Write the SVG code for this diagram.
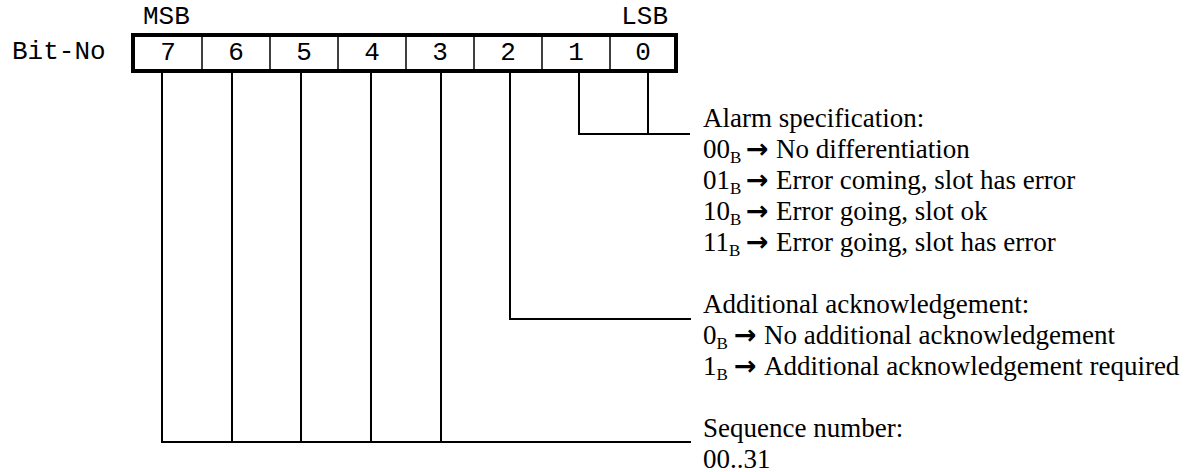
<svg xmlns="http://www.w3.org/2000/svg" width="1185" height="472" viewBox="0 0 1185 472">
<style>
.mono{font-family:"Liberation Mono","Courier New",monospace;font-size:26px;fill:#000}
.ser{font-family:"Liberation Serif","Times New Roman",serif;font-size:27px;fill:#000}
.sub{font-size:17px}
.arr{font-family:"DejaVu Sans",sans-serif;font-size:27px;font-weight:bold}
.ln{stroke:#000;stroke-width:2;fill:none}
.div{stroke:#000;stroke-width:1.5}
</style>
<rect width="1185" height="472" fill="#fff"/>
<g id="register">
<text class="mono" x="12" y="59">Bit-No</text>
<text class="mono" x="143" y="24">MSB</text>
<text class="mono" x="668" y="24" text-anchor="end">LSB</text>
<rect x="133" y="35" width="543" height="36" fill="none" stroke="#000" stroke-width="4"/>
<line class="div" x1="202" y1="35" x2="202" y2="71"/>
<line class="div" x1="270" y1="35" x2="270" y2="71"/>
<line class="div" x1="338" y1="35" x2="338" y2="71"/>
<line class="div" x1="406" y1="35" x2="406" y2="71"/>
<line class="div" x1="474" y1="35" x2="474" y2="71"/>
<line class="div" x1="542" y1="35" x2="542" y2="71"/>
<line class="div" x1="610" y1="35" x2="610" y2="71"/>
<g class="mono" text-anchor="middle">
<text x="168" y="60">7</text>
<text x="236" y="60">6</text>
<text x="304" y="60">5</text>
<text x="372" y="60">4</text>
<text x="440" y="60">3</text>
<text x="508" y="60">2</text>
<text x="576" y="60">1</text>
<text x="643" y="60">0</text>
</g>
</g>
<g id="connectors">
<path class="ln" d="M579 73V134H690M648 73V134"/>
<path class="ln" d="M510 73V319H691"/>
<path class="ln" d="M162 73V442H691M232 73V442M301 73V442M371 73V442M441 73V442"/>
</g>
<g id="alarm">
<text class="ser" x="703" y="127">Alarm specification:</text>
<text class="ser" x="703" y="158">00<tspan class="sub" dy="5">B</tspan><tspan class="arr" x="746" dy="-5">→</tspan><tspan x="776">No differentiation</tspan></text>
<text class="ser" x="703" y="189">01<tspan class="sub" dy="5">B</tspan><tspan class="arr" x="746" dy="-5">→</tspan><tspan x="776">Error coming, slot has error</tspan></text>
<text class="ser" x="703" y="220">10<tspan class="sub" dy="5">B</tspan><tspan class="arr" x="746" dy="-5">→</tspan><tspan x="776">Error going, slot ok</tspan></text>
<text class="ser" x="703" y="251">11<tspan class="sub" dy="5">B</tspan><tspan class="arr" x="746" dy="-5">→</tspan><tspan x="776">Error going, slot has error</tspan></text>
</g>
<g id="ack">
<text class="ser" x="703" y="313">Additional acknowledgement:</text>
<text class="ser" x="703" y="344">0<tspan class="sub" dy="5">B</tspan><tspan class="arr" x="734" dy="-5">→</tspan><tspan x="764">No additional acknowledgement</tspan></text>
<text class="ser" x="703" y="375">1<tspan class="sub" dy="5">B</tspan><tspan class="arr" x="734" dy="-5">→</tspan><tspan x="764">Additional acknowledgement required</tspan></text>
</g>
<g id="seq">
<text class="ser" x="703" y="437">Sequence number:</text>
<text class="ser" x="703" y="468">00..31</text>
</g>
</svg>
